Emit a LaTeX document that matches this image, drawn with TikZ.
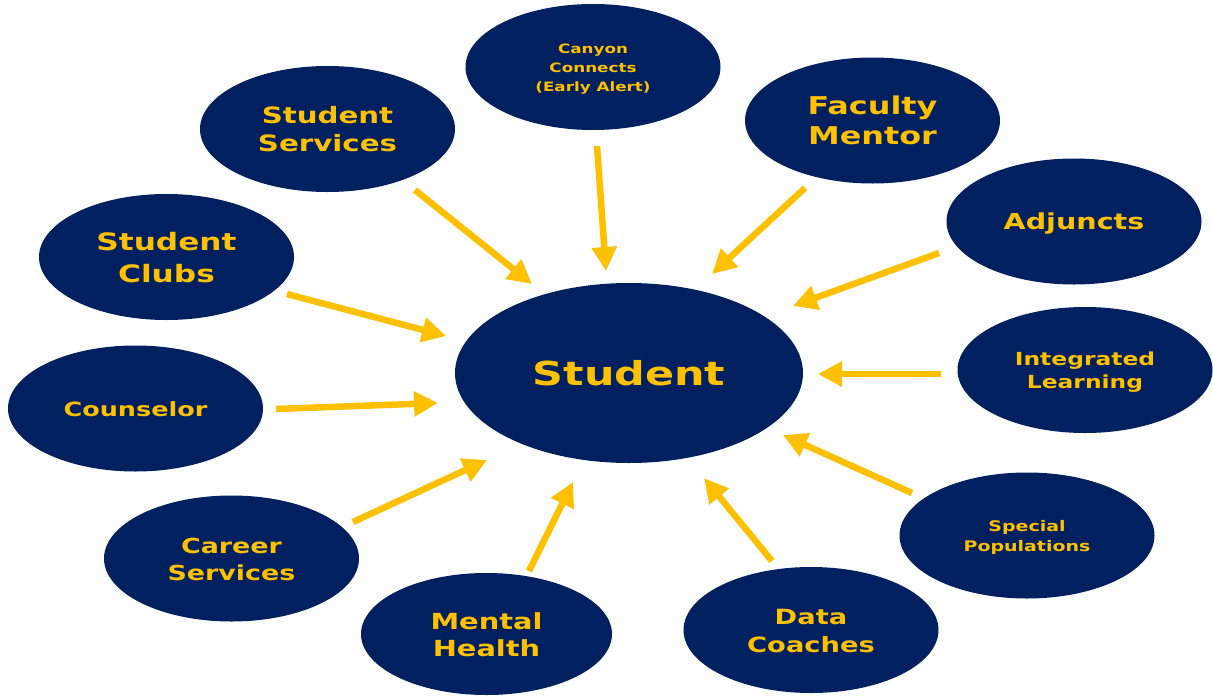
\documentclass[tikz,border=0pt]{standalone}
\usepackage{fontspec}
\setmainfont{DejaVu Sans}
\usetikzlibrary{shapes.geometric,arrows.meta}
\definecolor{navy}{HTML}{002060}
\definecolor{gold}{HTML}{FFC000}
\newcommand{\lbl}[3]{\scalebox{1.3}[1]{\fontsize{#1}{#2}\selectfont\bfseries\raisebox{-0.14em}[\height][\depth]{\begin{tabular}{@{}c@{}}#3\end{tabular}}}}
\tikzset{
  blob/.style={ellipse, fill=navy, draw=none, inner sep=0pt, minimum width=255pt, minimum height=126pt, text=gold},
  arr/.style={draw=gold, line width=6.5pt, -{Triangle[length=24pt,width=24pt]}}
}
\begin{document}
\begin{tikzpicture}[x=1pt,y=-1pt]
\useasboundingbox (0,0) rectangle (1213,696);
\node[blob, minimum width=348pt, minimum height=180pt] (student) at (629,373) {\lbl{33}{40}{Student}};
\node[blob] (canyon) at (593,67) {\lbl{12.9}{19}{Canyon\\Connects\\(Early Alert)}};
\node[blob] (ss) at (327.5,129) {\lbl{22.5}{28}{Student\\Services}};
\node[blob] (faculty) at (872.5,120.5) {\lbl{24.5}{30}{Faculty\\Mentor}};
\node[blob] (adjuncts) at (1074,221.5) {\lbl{22}{26}{Adjuncts}};
\node[blob] (clubs) at (166.5,257) {\lbl{24}{32}{Student\\Clubs}};
\node[blob] (integrated) at (1085,370) {\lbl{18}{23}{Integrated\\Learning}};
\node[blob] (counselor) at (135.5,408.5) {\lbl{19.6}{24}{Counselor}};
\node[blob] (career) at (231.5,558.5) {\lbl{20.7}{27}{Career\\Services}};
\node[blob] (special) at (1027,535.5) {\lbl{14.6}{20}{Special\\Populations}};
\node[blob, minimum width=251pt, minimum height=122pt] (mental) at (486.5,634) {\lbl{22.2}{27}{Mental\\Health}};
\node[blob] (data) at (811,630) {\lbl{21}{28}{Data\\Coaches}};

\coordinate (a1s) at (415,190);  \coordinate (a1e) at (532,284);
\coordinate (a2s) at (597,146);  \coordinate (a2e) at (606,271);
\coordinate (a3s) at (805,188);  \coordinate (a3e) at (712,274);
\coordinate (a4s) at (939,253);  \coordinate (a4e) at (793,306);
\coordinate (a5s) at (287,294);  \coordinate (a5e) at (446,336);
\coordinate (a6s) at (941,374);  \coordinate (a6e) at (818,374);
\coordinate (a7s) at (276,409);  \coordinate (a7e) at (438,403);
\coordinate (a8s) at (353,522);  \coordinate (a8e) at (487,460);
\coordinate (a9s) at (529,571);  \coordinate (a9e) at (573,482);
\coordinate (a10s) at (772,561); \coordinate (a10e) at (704,478);
\coordinate (a11s) at (912,493); \coordinate (a11e) at (783,435);
\foreach \i in {1,...,11} {\draw[arr] (a\i s) -- (a\i e);}
\end{tikzpicture}
\end{document}
